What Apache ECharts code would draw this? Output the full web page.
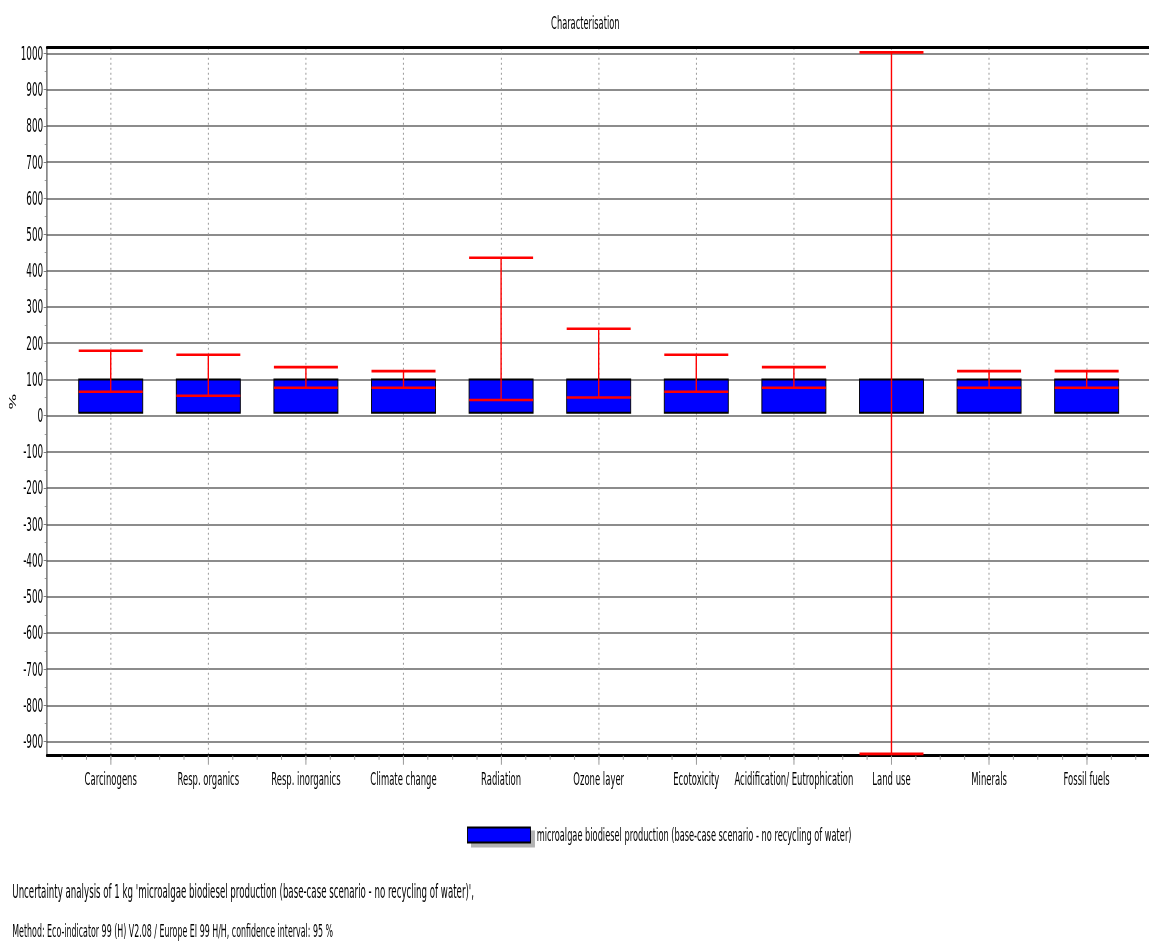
<!DOCTYPE html>
<html>
<head>
<meta charset="utf-8">
<script src="https://cdn.jsdelivr.net/npm/echarts@6/dist/echarts.min.js"></script>
<style>
  html, body { margin: 0; padding: 0; background: #fff; overflow: hidden; }
  #wrap { width: 1149px; height: 951px; overflow: hidden; position: relative; }
  #chart { position: absolute; left: 0; top: 0; height: 951px; transform-origin: 0 0; }
</style>
</head>
<body>
<div id="wrap"><div id="chart"></div></div>
<script>
// Impact categories (Eco-indicator 99)
const categories = ['Carcinogens', 'Resp. organics', 'Resp. inorganics', 'Climate change', 'Radiation',
  'Ozone layer', 'Ecotoxicity', 'Acidification/ Eutrophication', 'Land use', 'Minerals', 'Fossil fuels'];

// Characterised result of each category, expressed as % of itself
const characterised = [100, 100, 100, 100, 100, 100, 100, 100, 100, 100, 100];

// 95 % confidence interval bounds (%)
const lowerBound = [66, 55, 77, 77, 43, 50, 66, 77, -934, 77, 77];
const upperBound = [179, 168, 134, 123, 436, 240, 168, 134, 1003, 123, 123];

// Value axis ticks (%)
const yTicks = [-900, -800, -700, -600, -500, -400, -300, -200, -100, 0,
  100, 200, 300, 400, 500, 600, 700, 800, 900, 1000];
const yMin = -939;
const yMax = 1016;

const seriesName = 'microalgae biodiesel production (base-case scenario - no recycling of water)';
const footerLine1 = "Uncertainty analysis of 1 kg 'microalgae biodiesel production (base-case scenario - no recycling of water)',";
const footerLine2 = 'Method: Eco-indicator 99 (H) V2.08 / Europe EI 99 H/H, confidence interval: 95 %';

// The chart is laid out on a wider stage and condensed horizontally,
// which gives the lettering the narrow look of the report font.
const SX = 0.46;
const PAGE_W = 1149;
const STAGE_W = PAGE_W / SX;
const hx = (px) => px / SX;           // horizontal page pixels -> stage units

const el = document.getElementById('chart');
el.style.width = STAGE_W + 'px';
el.style.transform = 'scaleX(' + SX + ')';

const FONT = 'DejaVu Sans';
const catIdx = categories.map((_, i) => i);
const xMinorTicks = [];
for (let v = -0.5; v <= 10.5 + 1e-9; v += 0.25) xMinorTicks.push(v);
const yMinorTicks = [];
for (let v = -900; v <= 1000; v += 50) yMinorTicks.push(v);

const BOX_W = hx(64);
const X_MIN = -0.656;
const X_MAX = 10.69;

const chart = echarts.init(el, null, { renderer: 'svg', width: STAGE_W, height: 951 });

chart.setOption({
  animation: false,
  backgroundColor: '#ffffff',
  title: [
    {
      text: 'Characterisation',
      left: hx(583), top: 9, textAlign: 'center',
      textStyle: { fontFamily: FONT, fontSize: 18, fontWeight: 'normal', color: '#000' }
    },
    {
      text: footerLine1, left: hx(10), top: 876,
      textStyle: { fontFamily: FONT, fontSize: 18.8, fontWeight: 'normal', color: '#000' }
    },
    {
      text: footerLine2, left: hx(10), top: 918,
      textStyle: { fontFamily: FONT, fontSize: 17.2, fontWeight: 'normal', color: '#000' }
    }
  ],
  legend: {
    left: hx(467), top: 826, padding: 0,
    data: [{ name: seriesName, icon: 'rect' }],
    itemWidth: hx(63), itemHeight: 15,
    itemStyle: {
      color: '#0000ff', borderColor: '#000', borderWidth: 2,
      shadowColor: 'rgba(0,0,0,0.3)', shadowOffsetX: hx(4), shadowOffsetY: 4, shadowBlur: 0
    },
    textStyle: { fontFamily: FONT, fontSize: 17.9, color: '#000', padding: [0, 0, 0, hx(4)] },
    selectedMode: false
  },
  grid: {
    left: hx(46.7), right: -hx(5), top: 47.7, bottom: 951 - 755.7,
    outerBoundsMode: 'none', containLabel: false
  },
  xAxis: [
    {
      type: 'value', min: X_MIN, max: X_MAX, position: 'bottom',
      axisLine: { show: true, onZero: false, lineStyle: { color: '#000', width: 3 } },
      axisTick: { show: true, customValues: catIdx, length: 9, lineStyle: { color: '#999', width: hx(1) } },
      axisLabel: {
        customValues: catIdx, margin: 14,
        formatter: (v) => categories[Math.round(v)],
        fontFamily: FONT, fontSize: 18.4, color: '#000'
      },
      splitLine: { show: true, lineStyle: { color: '#9a9a9a', width: hx(1), type: [2, 3] } }
    },
    {
      // quarter-category tick marks along the bottom axis
      type: 'value', min: X_MIN, max: X_MAX, position: 'bottom',
      axisLine: { show: false, onZero: false },
      axisTick: { show: true, customValues: xMinorTicks, length: 4, lineStyle: { color: '#999', width: hx(1) } },
      axisLabel: { show: false },
      splitLine: { show: false }
    },
    {
      // top frame line
      type: 'value', min: X_MIN, max: X_MAX, position: 'top',
      axisLine: { show: true, onZero: false, lineStyle: { color: '#000', width: 3 } },
      axisTick: { show: false }, axisLabel: { show: false }, splitLine: { show: false }
    }
  ],
  yAxis: [
    {
      type: 'value', min: yMin, max: yMax,
      name: '%', nameLocation: 'middle', nameGap: hx(29), nameRotate: 90, nameMoveOverlap: false,
      nameTextStyle: { fontFamily: FONT, fontSize: 17, color: '#000' },
      axisLine: { show: true, onZero: false, lineStyle: { color: '#333', width: hx(1) } },
      axisTick: { show: true, customValues: yTicks, length: hx(3), lineStyle: { color: '#555', width: 1 } },
      axisLabel: {
        customValues: yTicks, margin: hx(3.5),
        formatter: (v) => String(v),
        fontFamily: FONT, fontSize: 19.2, color: '#000'
      },
      splitLine: { show: true, lineStyle: { color: '#8c8c8c', width: 2.2 } }
    },
    {
      // minor tick marks on the value axis
      type: 'value', min: yMin, max: yMax, position: 'left',
      axisLine: { show: false, onZero: false },
      axisTick: { show: true, customValues: yMinorTicks, length: hx(2), lineStyle: { color: '#777', width: 1 } },
      axisLabel: { show: false }, splitLine: { show: false }
    }
  ],
  series: [
    {
      name: seriesName,
      type: 'custom',
      xAxisIndex: 0, yAxisIndex: 0,
      itemStyle: { color: '#0000ff' },
      encode: { x: 0, y: 1 },
      data: catIdx.map((i) => [i, characterised[i]]),
      renderItem: function (params, api) {
        const i = api.value(0);
        const top = api.coord([i, api.value(1)]);
        const base = api.coord([i, 0]);
        return {
          type: 'rect',
          shape: { x: top[0] - BOX_W / 2, y: top[1], width: BOX_W, height: base[1] - top[1] - 3 },
          style: { fill: '#0000ff', stroke: '#000', lineWidth: 2 }
        };
      },
      z: 2
    },
    {
      name: 'confidence interval',
      type: 'custom',
      xAxisIndex: 0, yAxisIndex: 0,
      encode: { x: 0, y: [1, 2] },
      data: catIdx.map((i) => [i, lowerBound[i], upperBound[i]]),
      renderItem: function (params, api) {
        const i = api.value(0);
        const lo = api.coord([i, api.value(1)]);
        const hi = api.coord([i, api.value(2)]);
        const half = BOX_W / 2;
        return {
          type: 'group',
          children: [
            { type: 'line', shape: { x1: hi[0], y1: hi[1], x2: lo[0], y2: lo[1] },
              style: { stroke: '#ff0000', lineWidth: hx(1.4) } },
            { type: 'line', shape: { x1: hi[0] - half, y1: hi[1], x2: hi[0] + half, y2: hi[1] },
              style: { stroke: '#ff0000', lineWidth: 2.6 } },
            { type: 'line', shape: { x1: lo[0] - half, y1: lo[1], x2: lo[0] + half, y2: lo[1] },
              style: { stroke: '#ff0000', lineWidth: 2.6 } }
          ]
        };
      },
      z: 3
    }
  ]
});
</script>
</body>
</html>
